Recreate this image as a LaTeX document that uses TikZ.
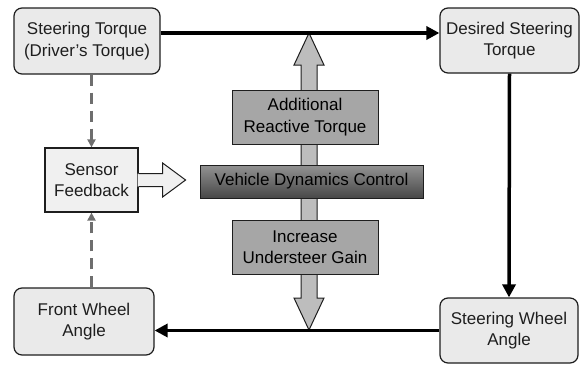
\documentclass[tikz,border=0pt]{standalone}
\usepackage{fontspec}
\setmainfont{Liberation Sans}
\usepackage{xcolor}
\usepackage{tikz}
\usetikzlibrary{positioning,calc,arrows.meta}

\definecolor{boxgray}{HTML}{EAEAEA}
\definecolor{sensorgray}{HTML}{F0F0F0}
\definecolor{ctrlgray}{HTML}{A6A6A6}
\definecolor{dashgray}{HTML}{6E6E6E}
\definecolor{shaftgray}{HTML}{BDBDBD}
\definecolor{inkgray}{HTML}{1E1E1E}

\begin{document}
\begin{tikzpicture}[
    x=1pt, y=-1pt,
    block/.style={rectangle, draw=inkgray, line width=1.2pt, rounded corners=8pt, fill=boxgray, align=center, text=inkgray, font=\fontsize{17}{21.5}\selectfont, inner sep=0pt},
    ctrl/.style={rectangle, draw=inkgray, line width=1pt, fill=ctrlgray, align=center, text=black, font=\fontsize{17}{21.5}\selectfont, inner sep=0pt, minimum width=146pt, minimum height=54pt},
    flow/.style={line width=3.5pt, -{Triangle[length=13pt, width=13pt]}},
    feedback/.style={dashgray, line width=2.5pt, dash pattern=on 11pt off 7pt, -{Triangle[length=8pt, width=8pt]}},
    bigarrow/.style={draw=inkgray, line width=1pt, fill=shaftgray, line join=miter}
]
    \useasboundingbox (0,0) rectangle (584,367);

    % double arrow behind the control blocks
    \coordinate (uptip) at (309,33);
    \coordinate (downtip) at (309,330);
    \draw[bigarrow] (uptip) -- ++(15,32) -- ++(-7,0) -- ($(downtip)+(8,-32)$) -- ++(7,0) -- (downtip)
        -- ++(-15,-32) -- ++(7,0) -- ($(uptip)+(-8,32)$) -- ++(-7,0) -- cycle;

    \node[block, minimum width=146pt, minimum height=66pt] (torque) at (87,41) {Steering Torque\\(Driver's Torque)};
    \node[block, minimum width=139pt, minimum height=65pt] (desired) at (509.5,40.5) {Desired Steering\\Torque};
    \node[block, minimum width=140pt, minimum height=67pt] (front) at (84,321.5) {Front Wheel\\Angle};
    \node[block, minimum width=138pt, minimum height=65pt] (wheel) at (509,330.5) {Steering Wheel\\Angle};
    \node[block, sharp corners, fill=sensorgray, minimum width=93pt, minimum height=64pt] (sensor) at (91.5,180) {Sensor\\Feedback};

    \node[ctrl, minimum width=223pt, minimum height=33pt, top color=gray!85, middle color=gray!115!black, bottom color=black!72, shading angle=0] (vdc) at (311.5,181.5) {Vehicle Dynamics Control};
    \node[ctrl, above=20pt of vdc, xshift=-6.5pt] (reactive) {Additional\\Reactive Torque};
    \node[ctrl, below=21pt of vdc, xshift=-6.5pt] (gain) {Increase\\Understeer Gain};

    % hollow arrow into the control block
    \fill[sensorgray] (sensor.east) ++(-1,-6.5) -- ++(25,0) -- ++(0,-10.5) -- ++(23,17) -- ++(-23,17) -- ++(0,-10.5) -- ++(-25,0) -- cycle;
    \draw[inkgray, line width=1pt, line join=miter] (sensor.east) ++(0,-6.5) -- ++(24,0) -- ++(0,-10.5) -- ++(23,17) -- ++(-23,17) -- ++(0,-10.5) -- ++(-24,0);

    \draw[flow] ([yshift=8pt]torque.east) -- ([yshift=8pt]torque.east -| desired.west);
    \draw[flow] (desired.south) -- (wheel.north);
    \draw[flow] (wheel.west) -- (wheel.west -| front.east);
    \draw[feedback] (sensor.north |- torque.south) -- (sensor.north);
    \draw[feedback] (sensor.south |- front.north) -- (sensor.south);
\end{tikzpicture}
\end{document}
